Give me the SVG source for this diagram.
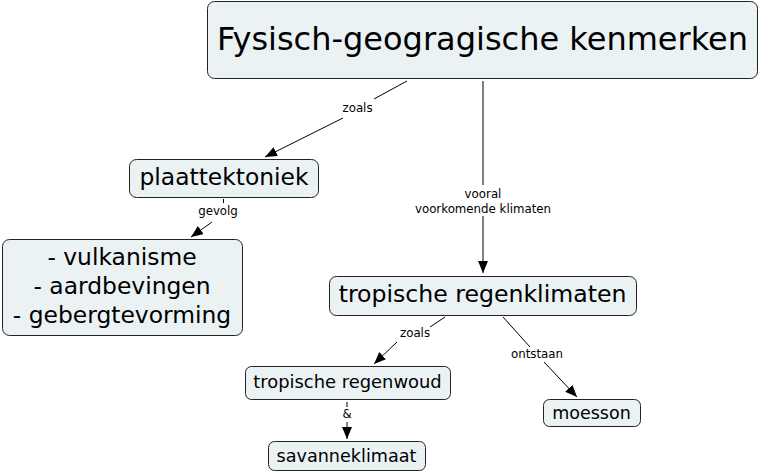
<svg xmlns="http://www.w3.org/2000/svg" width="760" height="473" viewBox="0 0 760 473">
<defs>
<marker id="ah" viewBox="0 0 12 10" refX="12" refY="5" markerWidth="12" markerHeight="10" markerUnits="userSpaceOnUse" orient="auto">
<path d="M0,0 L12,5 L0,10 Z" fill="#000"/>
</marker>
<style>
.box{fill:#ebf2f4;stroke:#222;stroke-width:1}
.t{font-family:"DejaVu Sans",Verdana,sans-serif;fill:#000;text-anchor:middle}
.l{font-family:"DejaVu Sans",Verdana,sans-serif;fill:#000;text-anchor:middle;font-size:11.8px}
.c{stroke:#000;stroke-width:1;fill:none}
</style>
</defs>
<rect width="760" height="473" fill="#fff"/>
<g id="connectors">
<line class="c" x1="407" y1="81" x2="374" y2="99"/>
<line class="c" x1="343" y1="118" x2="265" y2="157" marker-end="url(#ah)"/>
<text class="l" x="357.5" y="112">zoals</text>
<line class="c" x1="483" y1="81" x2="483" y2="185"/>
<line class="c" x1="483" y1="216" x2="483" y2="273" marker-end="url(#ah)"/>
<text class="l" x="483" y="198">vooral</text>
<text class="l" x="483" y="213">voorkomende klimaten</text>
<line class="c" x1="223.5" y1="199" x2="223.5" y2="203"/>
<line class="c" x1="212" y1="222" x2="191" y2="237" marker-end="url(#ah)"/>
<text class="l" x="218" y="215">gevolg</text>
<line class="c" x1="445" y1="317" x2="430" y2="327"/>
<line class="c" x1="397" y1="342" x2="374" y2="364" marker-end="url(#ah)"/>
<text class="l" x="415" y="337">zoals</text>
<line class="c" x1="503" y1="317" x2="530" y2="347"/>
<line class="c" x1="544" y1="362" x2="577" y2="397" marker-end="url(#ah)"/>
<text class="l" x="537" y="358">ontstaan</text>
<line class="c" x1="347" y1="402" x2="347" y2="407"/>
<line class="c" x1="347" y1="422" x2="347" y2="439" marker-end="url(#ah)"/>
<text class="l" x="347" y="418">&amp;</text>
</g>
<g id="n-fysisch">
<rect class="box" x="207.5" y="1.5" width="550" height="77" rx="7"/>
<text class="t" x="482.5" y="50" font-size="32">Fysisch-geogragische kenmerken</text>
</g>
<g id="n-plaattektoniek">
<rect class="box" x="129.5" y="159.5" width="189" height="38" rx="7"/>
<text class="t" x="224" y="185" font-size="23.4">plaattektoniek</text>
</g>
<g id="n-gevolgen">
<rect class="box" x="2.5" y="239.5" width="240" height="96" rx="7"/>
<text class="t" x="122" y="265" font-size="23.4">- vulkanisme</text>
<text class="t" x="122" y="294" font-size="23.4">- aardbevingen</text>
<text class="t" x="122" y="323" font-size="23.4">- gebergtevorming</text>
</g>
<g id="n-tropische-regenklimaten">
<rect class="box" x="329.5" y="276.5" width="307" height="39" rx="7"/>
<text class="t" x="482.5" y="302" font-size="23.6">tropische regenklimaten</text>
</g>
<g id="n-regenwoud">
<rect class="box" x="245.5" y="366.5" width="205" height="33" rx="6"/>
<text class="t" x="347.5" y="388" font-size="17.9">tropische regenwoud</text>
</g>
<g id="n-moesson">
<rect class="box" x="543.5" y="399.5" width="97" height="27" rx="6"/>
<text class="t" x="591.5" y="419" font-size="17.5">moesson</text>
</g>
<g id="n-savanne">
<rect class="box" x="268.5" y="441.5" width="157" height="29" rx="6"/>
<text class="t" x="346.5" y="462" font-size="17.6">savanneklimaat</text>
</g>
</svg>
